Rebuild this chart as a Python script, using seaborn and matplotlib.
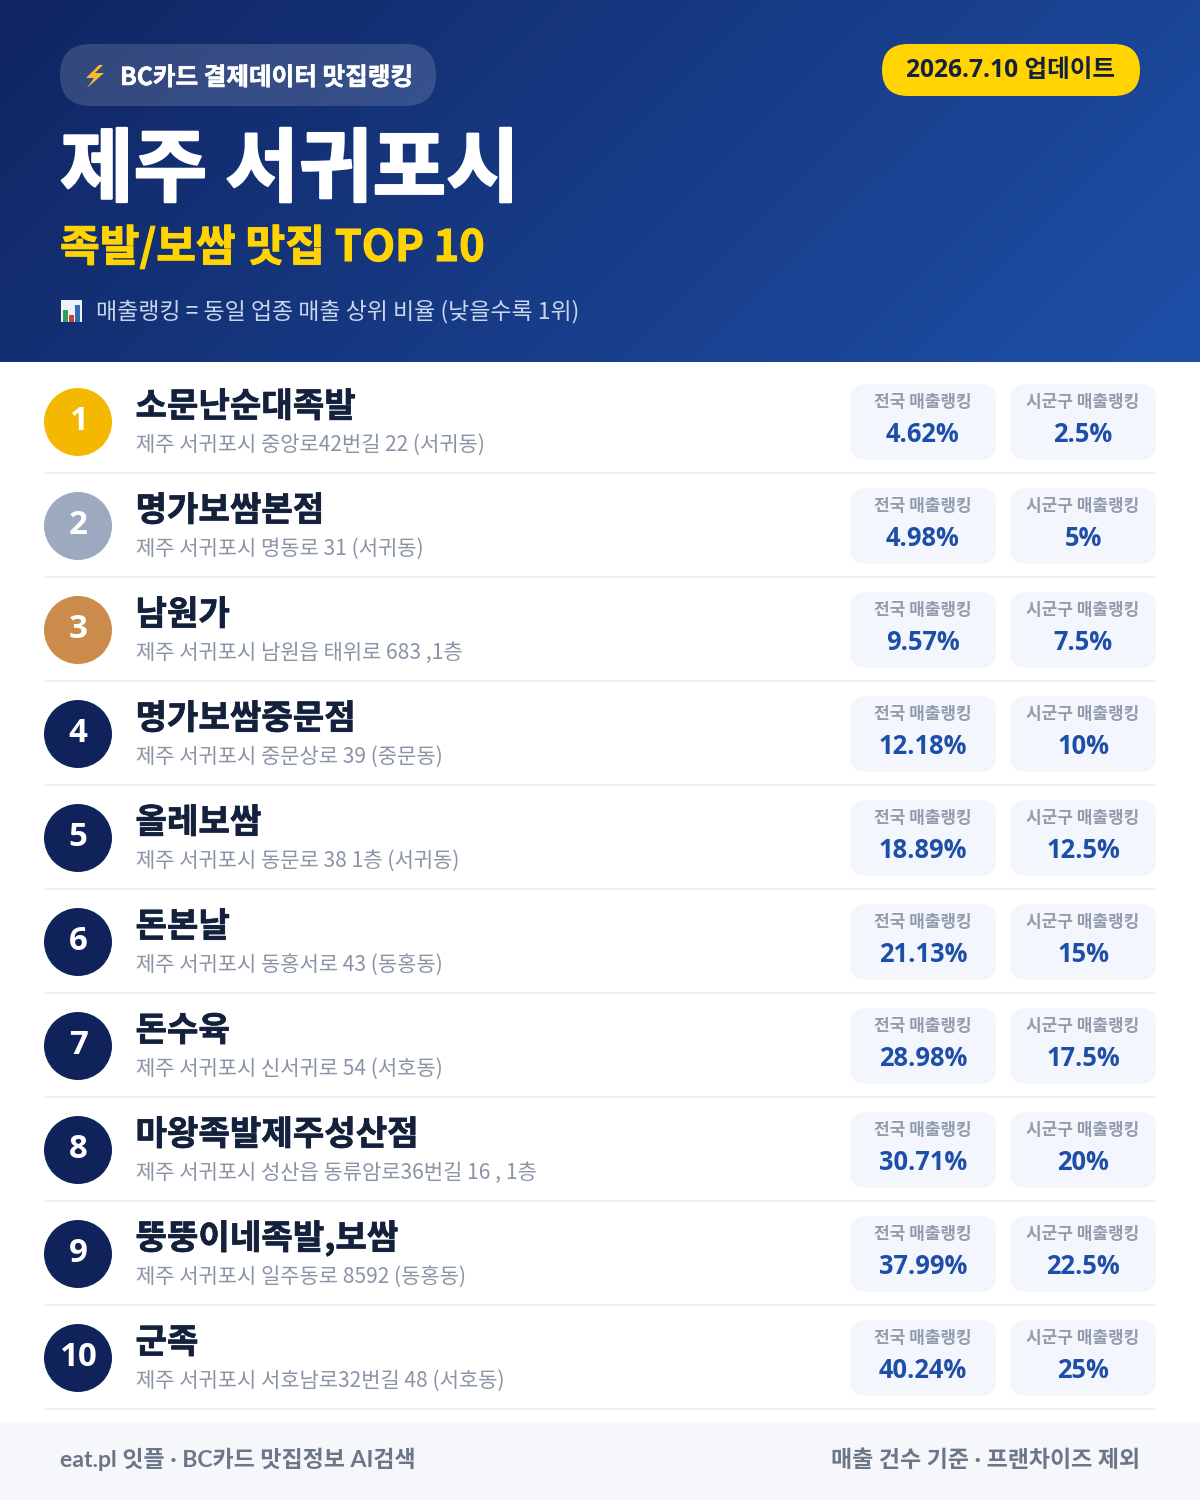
import matplotlib
matplotlib.use("Agg")
import matplotlib.pyplot as plt
import matplotlib.patheffects as pe
from matplotlib.patches import FancyBboxPatch, Rectangle, Polygon
import numpy as np
import pandas as pd
import seaborn as sns

sns.set_theme(style="white")
FONT = ["Noto Sans CJK KR", "DejaVu Sans"]
NUMFONT = ["Open Sans", "Noto Sans CJK KR", "DejaVu Sans"]
LATFONT = ["Lato", "Noto Sans CJK KR", "DejaVu Sans"]
plt.rcParams["font.family"] = FONT

ranks = [1, 2, 3, 4, 5, 6, 7, 8, 9, 10]
names = ["소문난순대족발", "명가보쌈본점", "남원가", "명가보쌈중문점", "올레보쌈",
         "돈본날", "돈수육", "마왕족발제주성산점", "뚱뚱이네족발,보쌈", "군족"]
addresses = ["제주 서귀포시 중앙로42번길 22 (서귀동)", "제주 서귀포시 명동로 31 (서귀동)",
             "제주 서귀포시 남원읍 태위로 683 ,1층", "제주 서귀포시 중문상로 39 (중문동)",
             "제주 서귀포시 동문로 38 1층 (서귀동)", "제주 서귀포시 동홍서로 43 (동홍동)",
             "제주 서귀포시 신서귀로 54 (서호동)", "제주 서귀포시 성산읍 동류암로36번길 16 , 1층",
             "제주 서귀포시 일주동로 8592 (동홍동)", "제주 서귀포시 서호남로32번길 48 (서호동)"]
national = ["4.62%", "4.98%", "9.57%", "12.18%", "18.89%", "21.13%", "28.98%", "30.71%", "37.99%", "40.24%"]
local = ["2.5%", "5%", "7.5%", "10%", "12.5%", "15%", "17.5%", "20%", "22.5%", "25%"]
medal_colors = ["#F4B800", "#9CA9BF", "#CB8B4B"] + ["#0F2259"] * 7

NAVY, BLUE, GRAY, YELLOW = "#14213D", "#1E4FA8", "#8A94A6", "#FFD400"
PITCH = 104

fig = plt.figure(figsize=(12, 15), dpi=100, facecolor="white")
ax = fig.add_axes([0, 0, 1, 1])
ax.set_xlim(0, 1200)
ax.set_ylim(1500, 0)
ax.axis("off")


def T(x, y, s, px, color, weight="regular", ha="left", fam=FONT, stroke=0.0):
    t = ax.text(x, y, s, fontsize=px * 0.72, color=color, fontweight=weight, ha=ha, va="baseline",
                family=fam, zorder=6)
    if stroke:
        t.set_path_effects([pe.withStroke(linewidth=stroke, foreground=color)])


def pill(x0, y0, x1, y1, r, color, alpha=1.0, z=3):
    ax.add_patch(FancyBboxPatch((x0, y0), x1 - x0, y1 - y0, boxstyle=f"round,pad=0,rounding_size={r}",
                                fc=color, ec="none", alpha=alpha, zorder=z))


# header gradient
h, w = 181, 600
yy, xx = np.mgrid[0:h, 0:w]
t = (xx / (w - 1) * 1200 + yy / (h - 1) * 362) / (1200 + 362)
c0, c1 = np.array([0x10, 0x25, 0x62]) / 255, np.array([0x1E, 0x50, 0xA8]) / 255
grad = c0[None, None, :] + (c1 - c0)[None, None, :] * t[..., None]
ax.imshow(grad, extent=(0, 1200, 362, 0), aspect="auto", zorder=1, interpolation="bilinear")
ax.set_xlim(0, 1200)
ax.set_ylim(1500, 0)

pill(60, 44, 436, 106, 31, "white", 0.15)
ax.add_patch(Polygon([(99, 65), (86, 78), (94, 78), (87, 88), (104, 73), (95, 73), (103, 65)],
                     closed=True, fc="#F7B92E", ec="none", zorder=5))
T(120, 85, "BC카드 결제데이터 맛집랭킹", 24.6, "white", "bold", stroke=0.4)
pill(882, 44, 1140, 96, 26, YELLOW)
T(1011, 77, "2026.7.10 업데이트", 24.6, "#14213D", "bold", "center", NUMFONT)
T(60, 195, "제주 서귀포시", 80, "white", "black", stroke=1.6)
T(60, 261, "족발/보쌈 맛집 TOP 10", 43.2, YELLOW, "black", stroke=0.8)

# chart icon
ax.add_patch(Rectangle((61, 300), 21, 22, fc="#EEF2F6", ec="none", zorder=4))
for bx, bt, bc in [(63, 310, "#2E9E5B"), (69, 315, "#D93A3A"), (75, 305, "#2F6DB5")]:
    ax.add_patch(Rectangle((bx, bt), 4.5, 322 - bt, fc=bc, ec="none", zorder=5))
T(96, 318, "매출랭킹 = 동일 업종 매출 상위 비율 (낮을수록 1위)", 23, "#C9D6EC")

# rows
df = pd.DataFrame({"rank": ranks, "x": 78.0, "y": [422 + PITCH * i for i in range(10)]})
sns.scatterplot(data=df, x="x", y="y", hue="rank", palette=dict(zip(ranks, medal_colors)),
                s=(68 * 0.72) ** 2, linewidth=0, legend=False, ax=ax, zorder=4)
ax.set_xlabel("")
ax.set_ylabel("")

for i, r in enumerate(ranks):
    dy = PITCH * i
    T(78, 430 + dy, str(r), 33, "white", "bold", "center", NUMFONT)
    T(135.5, 417 + dy, names[i], 34.2, NAVY, "black", stroke=0.5)
    T(136, 451 + dy, addresses[i], 21, GRAY)
    ax.hlines(473 + dy, 44, 1156, color="#EEF0F3", lw=1.5, zorder=2)
    pill(850, 384 + dy, 996, 460 + dy, 16, "#F3F6FC")
    pill(1010, 384 + dy, 1156, 460 + dy, 16, "#F3F6FC")
    T(923, 407 + dy, "전국 매출랭킹", 17, "#939CAD", "bold", "center")
    T(1083, 407 + dy, "시군구 매출랭킹", 17, "#939CAD", "bold", "center")
    T(923, 442 + dy, national[i], 25.5, BLUE, "bold", "center", NUMFONT)
    T(1083, 442 + dy, local[i], 25.5, BLUE, "bold", "center", NUMFONT)

# footer
ax.add_patch(Rectangle((0, 1422), 1200, 78, fc="#F5F7FB", ec="none", zorder=1))
T(60, 1467, "eat.pl 잇플 · BC카드 맛집정보 AI검색", 23, "#6B7688", "bold", "left", LATFONT)
T(1140, 1467, "매출 건수 기준 · 프랜차이즈 제외", 23, "#6B7688", "bold", "right", LATFONT)

fig.savefig("out.png", dpi=100, facecolor="white")
